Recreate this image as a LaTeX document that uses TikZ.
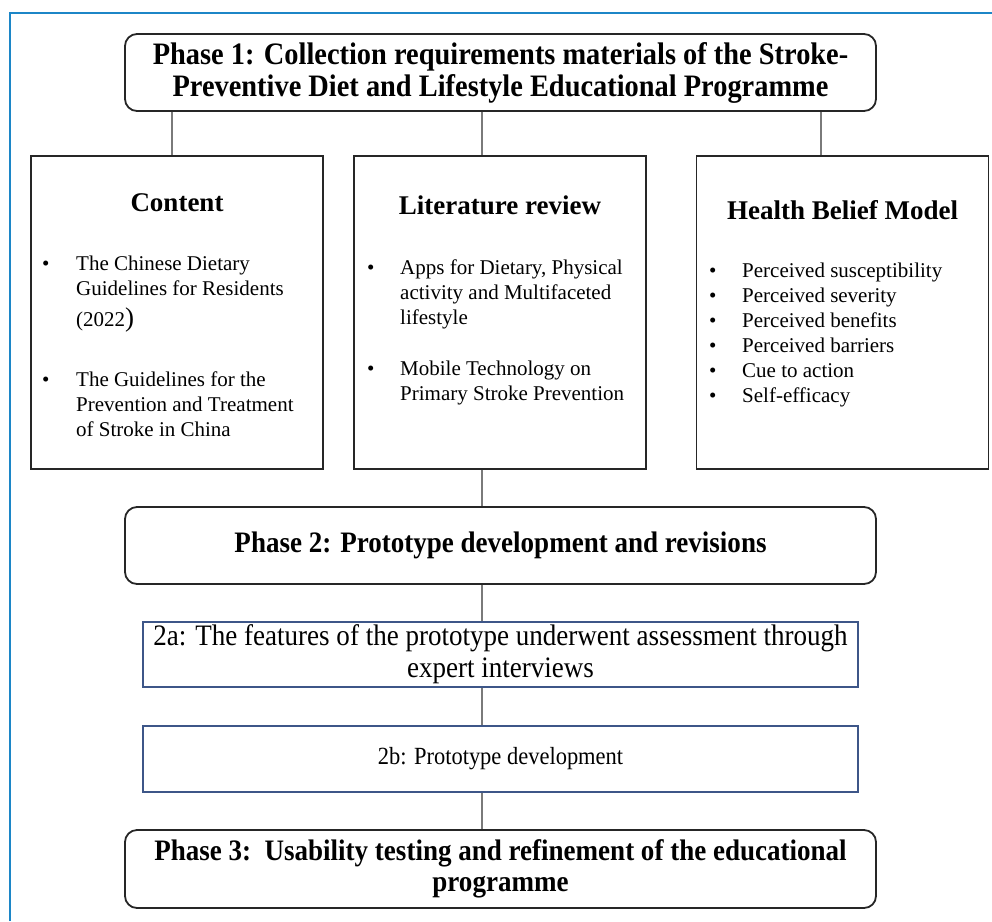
\documentclass[tikz,border=0pt]{standalone}
\usepackage{fontspec}
\setmainfont{Liberation Serif}
% narrow cut for the phase titles
\newfontfamily\narrowserif{Liberation Serif}[FakeStretch=0.91]

\definecolor{frameblue}{HTML}{1C86C7}
\definecolor{boxnavy}{HTML}{3D5688}
\definecolor{linkgray}{HTML}{7A7A7A}

\begin{document}
\begin{tikzpicture}
[ x=1pt, y=-1pt
, phase/.style={draw=black!85, line width=1.8pt, rounded corners=12pt, minimum width=751pt, align=center, inner sep=0pt, font=\narrowserif\bfseries\fontsize{29.7}{31}\selectfont}
, column/.style={draw=black!85, line width=1.8pt, minimum width=292pt, minimum height=313pt}
, heading/.style={anchor=base, inner sep=0pt, font=\bfseries\fontsize{27}{31}\selectfont}
, items/.style={anchor=base west, inner sep=0pt, font=\fontsize{21}{25}\selectfont}
, substep/.style={draw=boxnavy, line width=1.3pt, minimum width=715pt, align=center, inner sep=0pt, font=\narrowserif\fontsize{29.7}{32}\selectfont}
, link/.style={draw=linkgray, line width=1.1pt}
]
\useasboundingbox (0,0) rectangle (992,921);
\draw [frameblue, line width=2.5pt] (10,921) -- (10,13) -- (992,13);

% Phase 1 and its three sources:
\node (phase1) [phase, minimum height=77pt, font=\narrowserif\bfseries\fontsize{31.2}{32}\selectfont] at (500.5,72.5)
  {Phase 1: Collection requirements materials of the Stroke-\\Preventive Diet and Lifestyle Educational Programme};
\node (content) [column] at (177,312.5) {};
\node (review) [column] at (500,312.5) {};
\node (hbm) [column] at (842.5,312.5) {};

\node (contenthead) [heading] at (177,211) {Content};
\node (reviewhead) [heading] at (500,214) {Literature review};
\node (hbmhead) [heading] at (842.5,219) {Health Belief Model};

\node (contentitems) [items] at (42,270) {\begin{tabular}[t]{@{}p{34pt}@{}l@{}}
\textbullet & The Chinese Dietary\\
 & Guidelines for Residents\\[5pt]
 & (2022{\fontsize{27}{25}\selectfont)}\\[35pt]
\textbullet & The Guidelines for the\\
 & Prevention and Treatment\\
 & of Stroke in China
\end{tabular}};
\node (reviewitems) [items] at (367,274) {\begin{tabular}[t]{@{}p{33pt}@{}l@{}}
\textbullet & Apps for Dietary, Physical\\
 & activity and Multifaceted\\
 & lifestyle\\[26pt]
\textbullet & Mobile Technology on\\
 & Primary Stroke Prevention
\end{tabular}};
\node (hbmitems) [items] at (709,277) {\begin{tabular}[t]{@{}p{33pt}@{}l@{}}
\textbullet & Perceived susceptibility\\
\textbullet & Perceived severity\\
\textbullet & Perceived benefits\\
\textbullet & Perceived barriers\\
\textbullet & Cue to action\\
\textbullet & Self-efficacy
\end{tabular}};

% Phase 2 with its two steps, then phase 3:
\node (phase2) [phase, minimum height=77pt] at (500.5,545.5) {Phase 2: Prototype development and revisions};
\node (step2a) [substep, minimum height=65pt] at (500.5,654.5)
  {2a: The features of the prototype underwent assessment through\\expert interviews};
\node (step2b) [substep, minimum height=66pt, font=\narrowserif\fontsize{24.7}{30}\selectfont] at (500.5,759) {2b: Prototype development};
\node (phase3) [phase, minimum height=78pt] at (500.5,869)
  {Phase 3:\ \ Usability testing and refinement of the educational\\programme};

% drop lines
\coordinate (leftdrop) at (172,0);
\coordinate (spine) at (482,0);
\coordinate (rightdrop) at (821,0);
\draw [link] (phase1.south -| leftdrop) -- (content.north -| leftdrop);
\draw [link] (phase1.south -| spine) -- (review.north -| spine);
\draw [link] (phase1.south -| rightdrop) -- (hbm.north -| rightdrop);
\draw [link] (review.south -| spine) -- (phase2.north -| spine);
\draw [link] (phase2.south -| spine) -- (step2a.north -| spine);
\draw [link] (step2a.south -| spine) -- (step2b.north -| spine);
\draw [link] (step2b.south -| spine) -- (phase3.north -| spine);
\end{tikzpicture}
\end{document}
